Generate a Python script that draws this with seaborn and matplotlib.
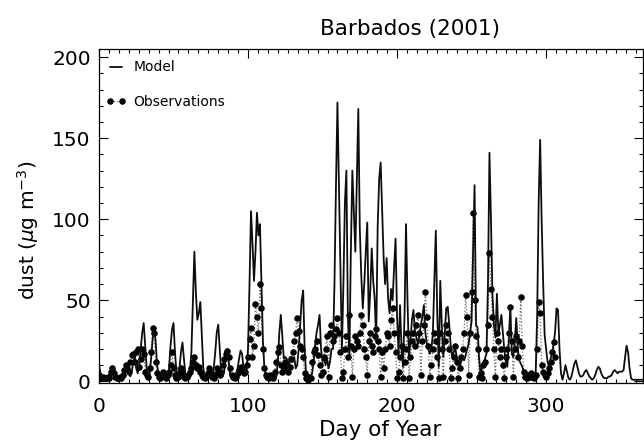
import numpy as np
import pandas as pd
import matplotlib
matplotlib.use("Agg")
import matplotlib.pyplot as plt
from matplotlib.ticker import MultipleLocator
import seaborn as sns

# Daily modelled dust concentration (ug m-3), day 0 .. 365
model_dust = [
    10, 5, 2, 1, 1, 2, 3, 2, 3, 6,
    9, 5, 2, 1, 1, 2, 3, 6, 9, 11,
    6, 3, 6, 12, 15, 8, 5, 10, 20, 30,
    36, 22, 8, 3, 5, 14, 26, 33, 25, 10,
    4, 2, 3, 6, 4, 2, 2, 8, 22, 32,
    36, 18, 5, 2, 8, 18, 24, 14, 4, 2,
    3, 6, 18, 50, 80, 55, 38, 42, 49, 28,
    8, 3, 2, 3, 4, 2, 3, 8, 18, 30,
    35, 20, 6, 3, 6, 14, 20, 12, 4, 2,
    1, 2, 4, 8, 14, 19, 17, 8, 4, 6,
    20, 60, 105, 85, 62, 80, 104, 90, 97, 60,
    25, 8, 3, 1, 1, 2, 3, 2, 1, 3,
    12, 30, 41, 28, 14, 15, 14, 8, 15, 14,
    12, 15, 8, 10, 20, 35, 50, 56, 20, 4,
    1, 1, 2, 5, 12, 22, 30, 35, 41, 20,
    12, 15, 10, 14, 8, 12, 20, 20, 60, 120,
    172, 121, 70, 19, 60, 110, 130, 40, 15, 80,
    130, 105, 80, 125, 168, 94, 65, 45, 60, 80,
    98, 37, 55, 82, 62, 51, 25, 96, 125, 135,
    105, 76, 60, 76, 51, 42, 57, 50, 70, 88,
    40, 17, 47, 20, 9, 40, 97, 50, 15, 25,
    38, 44, 31, 27, 23, 28, 35, 40, 47, 30,
    23, 20, 17, 20, 29, 60, 93, 40, 9, 62,
    35, 15, 30, 45, 46, 35, 22, 15, 18, 21,
    15, 12, 9, 12, 15, 13, 16, 20, 23, 30,
    37, 80, 121, 35, 33, 15, 5, 8, 10, 14,
    17, 60, 141, 100, 54, 35, 27, 54, 29, 35,
    41, 30, 19, 12, 9, 25, 46, 17, 15, 25,
    39, 20, 13, 11, 9, 6, 4, 4, 5, 5,
    5, 4, 5, 5, 40, 110, 149, 100, 62, 29,
    20, 12, 9, 14, 17, 23, 30, 45, 44, 20,
    5, 1, 5, 10, 6, 2, 1, 3, 7, 11,
    13, 9, 5, 3, 3, 4, 6, 7, 5, 3,
    2, 1, 2, 4, 7, 9, 8, 5, 3, 2,
    2, 2, 3, 3, 4, 6, 7, 6, 5, 6,
    6, 6, 7, 15, 22, 18, 8, 2, 1, 1,
    1, 1, 1, 1, 1, 1,
]

# Daily observed dust concentration (ug m-3), day 0 .. 306
obs_dust = [
    4, 3, 2, 3, 2, 2, 3, 2, 6, 8,
    5, 3, 2, 2, 3, 2, 4, 7, 10, 8,
    6, 12, 16, 17, 12, 18, 20, 9, 14, 20,
    17, 6, 4, 3, 8, 18, 33, 30, 12, 5,
    3, 2, 4, 6, 3, 2, 4, 6, 10, 18,
    8, 4, 2, 3, 5, 8, 6, 3, 2, 3,
    4, 6, 8, 12, 15, 10, 8, 9, 6, 4,
    3, 2, 3, 5, 8, 6, 3, 2, 4, 8,
    6, 4, 6, 10, 14, 17, 19, 15, 8, 4,
    3, 2, 3, 5, 7, 9, 8, 5, 6, 10,
    15, 26, 33, 15, 22, 48, 40, 30, 60, 45,
    20, 8, 4, 3, 2, 4, 3, 2, 6, 12,
    18, 21, 10, 6, 8, 12, 10, 6, 9, 14,
    18, 25, 30, 39, 31, 22, 20, 15, 5, 2,
    1, 3, 2, 12, 18, 20, 25, 16, 10, 4,
    6, 15, 20, 28, 3, 30, 35, 25, 28, 32,
    39, 30, 18, 2, 6, 20, 28, 15, 41, 22,
    3, 20, 28, 25, 22, 30, 41, 35, 20, 15,
    4, 25, 30, 22, 18, 28, 32, 25, 20, 3,
    18, 8, 20, 30, 28, 22, 38, 45, 30, 18,
    2, 6, 15, 22, 2, 12, 20, 30, 2, 15,
    25, 30, 22, 35, 41, 30, 4, 25, 35, 55,
    40, 22, 3, 10, 20, 30, 25, 15, 2, 30,
    20, 3, 25, 35, 30, 20, 2, 8, 15, 22,
    12, 2, 8, 15, 20, 30, 53, 40, 4, 30,
    55, 104, 50, 28, 20, 3, 5, 2, 10, 12,
    20, 35, 79, 57, 40, 20, 3, 30, 25, 15,
    20, 10, 2, 15, 20, 30, 46, 25, 3, 20,
    28, 15, 25, 52, 22, 6, 3, 2, 4, 3,
    5, 3, 2, 4, 20, 49, 42, 10, 6, 4,
    3, 5, 8, 12, 18, 24, 15,
]

model_df = pd.DataFrame({"day": np.arange(len(model_dust)), "dust": model_dust})
obs_df = pd.DataFrame({"day": np.arange(len(obs_dust)), "dust": obs_dust})

sns.set_theme(style="ticks")
plt.rcParams["font.family"] = ["DejaVu Sans"]
plt.rcParams["mathtext.fontset"] = "dejavusans"
for key in ("text.color", "axes.labelcolor", "xtick.color", "ytick.color",
            "axes.edgecolor"):
    plt.rcParams[key] = "black"

fig = plt.figure(figsize=(6.44, 4.48), dpi=100)
ax = fig.add_axes([0.1537, 0.1451, 0.8447, 0.7455])

sns.lineplot(data=obs_df, x="day", y="dust", ax=ax, color="0.4",
             linestyle=":", linewidth=0.9, marker="o", markersize=3.9,
             markerfacecolor="black", markeredgecolor="black",
             label="Observations", zorder=2)
sns.lineplot(data=model_df, x="day", y="dust", ax=ax, color="0.05",
             linewidth=1.3, label="Model", zorder=3)

ax.set_xlim(0, 365)
ax.set_ylim(-1, 205)
ax.xaxis.set_major_locator(MultipleLocator(100))
ax.xaxis.set_minor_locator(MultipleLocator(100 / 15))
ax.yaxis.set_major_locator(MultipleLocator(50))
ax.yaxis.set_minor_locator(MultipleLocator(10))
ax.tick_params(which="both", direction="in", top=True, right=True,
               width=0.8, color="black")
ax.tick_params(which="major", length=6.5)
ax.tick_params(which="minor", length=3)
ax.tick_params(axis="x", which="major", labelsize=14.5, pad=10)
ax.tick_params(axis="y", which="major", labelsize=14.5, pad=6)
for side in ax.spines.values():
    side.set_linewidth(0.9)
    side.set_color("black")

fig.text(410 / 644, 1 - 29 / 448, "Barbados (2001)", fontsize=15.5,
         ha="center", va="center")
ax.set_xlabel("Day of Year", fontsize=15.5)
ax.xaxis.set_label_coords((380 - 99) / 544, -0.11)
ax.set_ylabel(r"dust ($\mu$g m$^{-3}$)", fontsize=14.5)
ax.yaxis.set_label_coords((41 - 99) / 544, (383 - 230) / 334)

handles, labels = ax.get_legend_handles_labels()
order = [labels.index("Model"), labels.index("Observations")]
ax.legend([handles[i] for i in order], [labels[i] for i in order],
          loc="upper left", bbox_to_anchor=(0.012, 0.966), frameon=False,
          fontsize=10, numpoints=2, handlelength=1.5, handletextpad=0.5,
          labelspacing=1.5, borderpad=0, borderaxespad=0)

fig.savefig("out.png", dpi=100)
